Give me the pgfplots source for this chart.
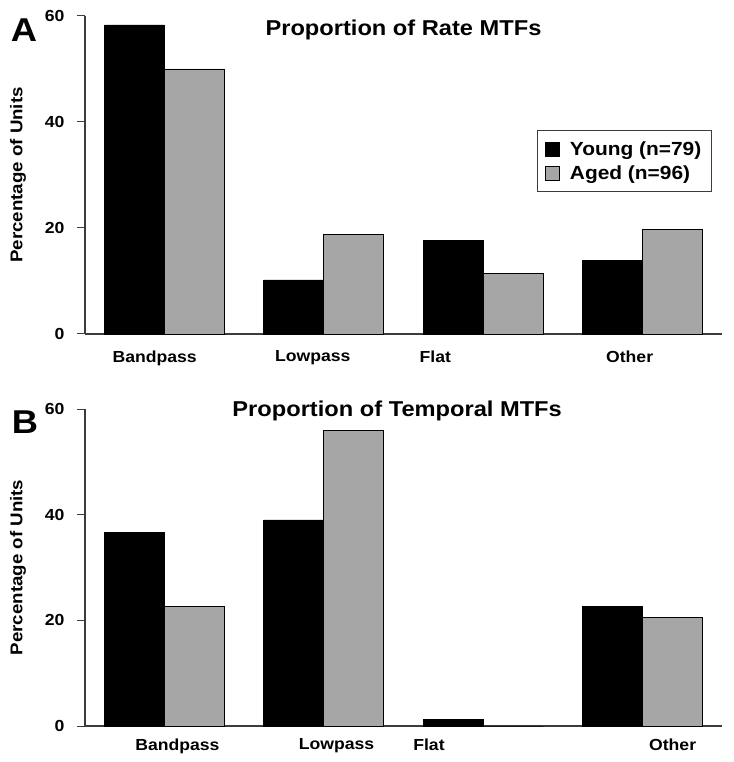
\documentclass[border=0pt]{standalone}
\usepackage{pgfplots}
\pgfplotsset{compat=1.18}
\usepackage{fontspec}
\setmainfont{Liberation Sans}[FakeStretch=1.1]
\definecolor{agedgray}{RGB}{166,166,166}
\definecolor{axisgray}{RGB}{60,60,60}

\pgfplotsset{
  every axis title shift=0pt,
  mtf/.style={
    scale only axis,
    width=637pt,
    xmin=-0.5, xmax=3.5,
    ymin=0, ymax=60,
    ytick={0,20,40,60},
    axis x line*=bottom,
    axis y line*=left,
    axis line style={axisgray, line width=1.3pt},
    ytick style={axisgray, line width=1pt},
    tick align=outside,
    major tick length=8pt,
    x tick style={draw=none},
    /pgf/number format/assume math mode=true,
    tick label style={font=\fontsize{16}{18}\selectfont\bfseries},
    yticklabel style={xshift=-9pt},
    ylabel={Percentage of Units},
    ylabel style={font=\fontsize{17}{19}\selectfont\bfseries, at={(axis description cs:-0.105,0.5)}, anchor=center},
    ybar=0pt,
    bar width=60pt,
    clip=false,
    legend image code/.code={\draw[#1] (0pt,-7pt) rectangle (14pt,7pt);},
  },
  young/.style={fill=black, draw=black, line width=0.8pt, bar shift=-30pt},
  aged/.style={fill=agedgray, draw=black, line width=0.8pt, bar shift=30pt},
}

\pgfplotstableread{
x young aged
0 58.3 50.0
1 10.2 18.8
2 17.7 11.5
3 13.9 19.8
}\rateMTF

\pgfplotstableread{
x young aged
0 36.6 22.6
1 39.0 56.0
2 1.3  0.0
3 22.6 20.6
}\tempMTF

\begin{document}
\begin{tikzpicture}
\path[use as bounding box] (0pt,0pt) rectangle (733pt,762pt);

% Panel A
\begin{axis}[mtf,
  at={(85pt,428pt)}, anchor=south west,
  height=318pt,
  xtick={-0.0625,0.93,1.70,2.92},
  xticklabels={Bandpass,Lowpass,Flat,Other},
  xticklabel style={yshift=-5pt},
  title={Proportion of Rate MTFs},
  title style={font=\fontsize{21.5}{24}\selectfont\bfseries, at={(rel axis cs:0.5,0.955)}, anchor=center},
  legend style={at={(rel axis cs:0.984,0.642)}, anchor=north east,
    draw=axisgray, line width=1pt, fill=white,
    font=\fontsize{19}{22}\selectfont\bfseries,
    inner xsep=8pt, inner ysep=9pt, row sep=5pt,
    /tikz/every odd column/.append style={column sep=8pt},
    legend cell align=left},
]
\addplot+[young] table[x=x,y=young] {\rateMTF};
\addplot+[aged] table[x=x,y=aged] {\rateMTF};
\legend{Young (n=79),Aged (n=96)}
\end{axis}

% Panel B
\begin{axis}[mtf,
  at={(85pt,36pt)}, anchor=south west,
  height=317pt,
  xtick={0.08,1.08,1.66,3.19},
  xticklabels={Bandpass,Lowpass,Flat,Other},
  xticklabel style={yshift=-1pt},
  title={Proportion of Temporal MTFs},
  title style={font=\fontsize{21.5}{24}\selectfont\bfseries, at={(rel axis cs:0.49,0.995)}, anchor=center},
]
\addplot+[young] table[x=x,y=young] {\tempMTF};
\addplot+[aged] table[x=x,y=aged] {\tempMTF};
\end{axis}

\node[font=\fontsize{33}{36}\selectfont\bfseries] at (24pt,732pt) {A};
\node[font=\fontsize{33}{36}\selectfont\bfseries] at (25pt,340pt) {B};
\end{tikzpicture}
\end{document}
